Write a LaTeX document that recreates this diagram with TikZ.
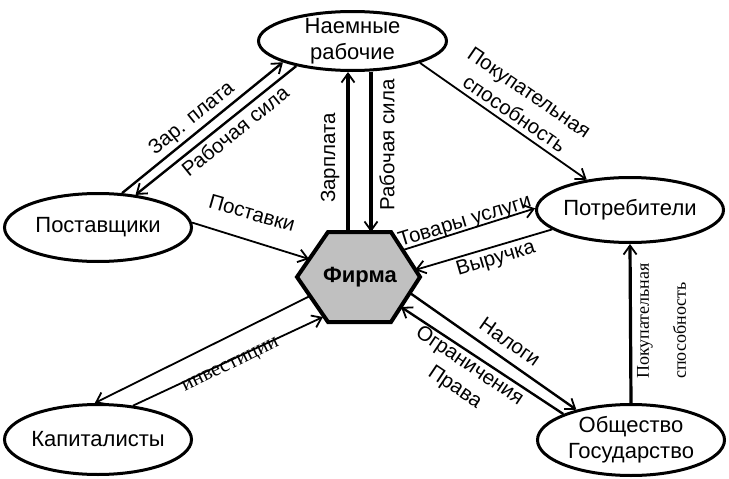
\documentclass[tikz,border=0pt]{standalone}
\usepackage{fontspec}
\setmainfont{Liberation Sans}
\newfontfamily\seriffont{Liberation Serif}
\usetikzlibrary{shapes.geometric,arrows.meta}
\definecolor{firmgray}{RGB}{192,192,192}

\tikzset{
        party/.style={ellipse, draw, line width=3pt},
        ptext/.style={align=center, font=\fontsize{22}{26}\selectfont},
        lbl/.style={align=center, font=\fontsize{20.5}{26}\selectfont},
        flow/.style={->, line width=1.8pt},
        midflow/.style={->, line width=2.4pt},
        bigflow/.style={->, line width=3.2pt}
}

\begin{document}
\begin{tikzpicture}[x=1pt,y=-1pt,>={Straight Barb[length=9pt,width=13pt,line width=1.8pt]}]
        \useasboundingbox (0,0) rectangle (729,479);
        \node[party,minimum width=188pt,minimum height=59pt,label={[ptext]center:Наемные\\рабочие}] (nr) at (352.5,41) {};
        \node[party,minimum width=187pt,minimum height=68pt,label={[ptext]center:Поставщики}] (ps) at (98,227.5) {};
        \node[party,minimum width=187pt,minimum height=70pt,label={[ptext]center:Капиталисты}] (kp) at (98,439.5) {};
        \node[party,minimum width=187pt,minimum height=65pt,label={[ptext]center:Потребители}] (pt) at (630,210) {};
        \node[party,minimum width=187pt,minimum height=71pt,label={[ptext]center:Общество\\Государство}] (ob) at (631,440) {};

        \filldraw[fill=firmgray, line width=4pt] (297,277) -- (328,232) -- (391,232) -- (420,277) -- (391,322) -- (328,322) -- cycle;
        \node[font=\fontsize{22}{26}\selectfont\bfseries] (fi) at (360,277) {Фирма};

        \coordinate (hZp) at (348,232);
        \coordinate (hRs) at (371,232);
        \coordinate (hPost) at (309,259);
        \coordinate (hTov) at (403,250);
        \coordinate (hVyr) at (415,270);
        \coordinate (hNal) at (410,293);
        \coordinate (hOgr) at (401,307);
        \coordinate (hInvA) at (310,296);
        \coordinate (hInvB) at (323,317);

        \draw[bigflow] (hZp) -- (hZp |- nr.south);
        \draw[bigflow] (hRs |- nr.south) -- (hRs);
        \draw[midflow] (ps.55) -- (nr.197);
        \draw[midflow] (nr.204) -- (ps.41);
        \draw[flow] (ps.3) -- (hPost);
        \draw[flow] (nr.342) -- (pt.145);
        \draw[flow] (hTov) -- (pt.179);
        \draw[flow] (pt.194) -- (hVyr);
        \draw[midflow] (hNal) -- (ob.151);
        \draw[midflow] (ob.159) -- (hOgr);
        \draw[bigflow] (ob.north) -- (pt.south);
        \draw[flow] (hInvA) -- (kp.95);
        \draw[flow] (kp.44) -- (hInvB);

        \node[lbl,rotate=39] (lZar) at (192,119) {Зар. плата};
        \node[lbl,rotate=39] (lRab) at (235,131) {Рабочая сила};
        \node[lbl,rotate=90] (lZp) at (330,158) {Зарплата};
        \node[lbl,rotate=90] (lRs) at (387,145) {Рабочая сила};
        \node[lbl,rotate=-16] (lPost) at (252,213) {Поставки};
        \node[lbl,rotate=-34.5] (lPok) at (522,103) {Покупательная\\способность};
        \node[lbl,rotate=17] (lTov) at (465,222) {Товары услуги};
        \node[lbl,rotate=16.5] (lVyr) at (496,259) {Выручка};
        \node[lbl,rotate=-35] (lNal) at (510,342) {Налоги};
        \node[lbl,rotate=-34] (lOgr) at (462,377) {Ограничения\\Права};
        \node[rotate=26,font=\seriffont\fontsize{21}{24}\selectfont] (lInv) at (231,366) {инвестиции};
        \node[rotate=90,align=left,font=\seriffont\fontsize{18}{37}\selectfont] (lPs) at (661.5,321) {Покупательная\\способность};
\end{tikzpicture}
\end{document}
